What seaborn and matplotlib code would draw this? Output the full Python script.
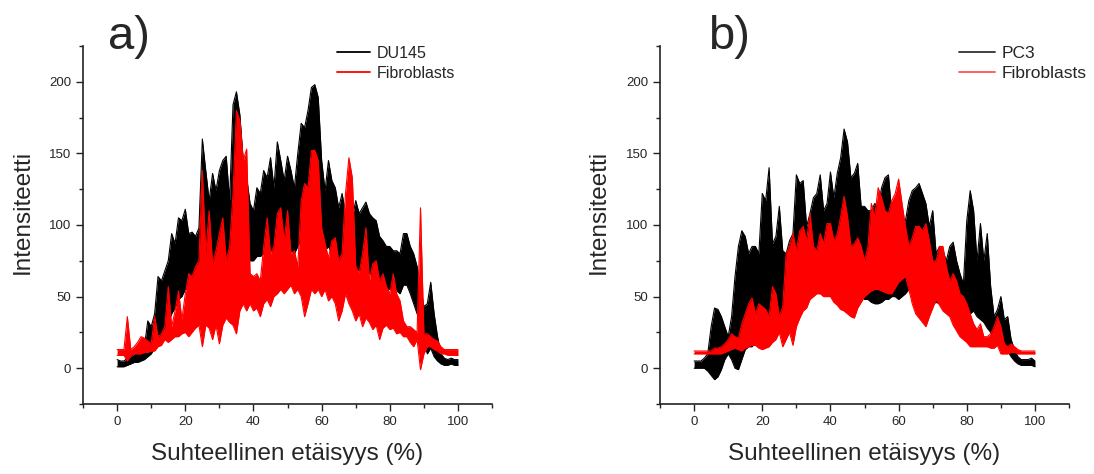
import matplotlib
matplotlib.use("Agg")
import matplotlib.pyplot as plt
import seaborn as sns
import numpy as np
from matplotlib.lines import Line2D
from matplotlib.ticker import MultipleLocator

# relative distance (%) sampled every 1 %
pos = list(range(0, 101))

# panel a) DU145 envelope (upper / lower)
du145_hi = [6, 5, 5, 7, 8, 10, 11, 12, 15, 33, 29, 38, 64, 61, 68, 75, 94, 87, 105, 103,
            111, 94, 95, 92, 98, 160, 138, 117, 136, 124, 138, 145, 148, 117, 184, 193, 177, 145, 133, 115,
            110, 126, 122, 138, 133, 147, 126, 158, 145, 131, 148, 138, 126, 150, 171, 168, 180, 196, 198, 189,
            145, 124, 145, 131, 126, 112, 122, 108, 105, 105, 117, 108, 112, 116, 108, 105, 103, 92, 89, 85,
            85, 82, 82, 80, 94, 94, 85, 80, 71, 57, 43, 45, 60, 38, 22, 10, 7, 6, 7, 6, 6]
du145_lo = [1, 1, 1, 2, 3, 4, 4, 5, 6, 8, 10, 14, 20, 24, 28, 32, 38, 42, 48, 50,
            55, 55, 58, 58, 60, 65, 62, 65, 68, 68, 70, 72, 74, 72, 80, 90, 88, 82, 78, 75,
            75, 78, 78, 80, 80, 82, 80, 85, 85, 82, 85, 82, 80, 85, 90, 95, 100, 110, 112, 105,
            90, 82, 85, 80, 78, 72, 74, 70, 68, 68, 70, 68, 68, 70, 66, 65, 64, 60, 58, 55,
            55, 54, 54, 52, 58, 58, 52, 45, 38, 32, 18, 10, 14, 8, 5, 3, 2, 2, 3, 2, 2]

# panel a) fibroblasts envelope
fib_a_hi = [13, 13, 13, 36, 13, 15, 18, 22, 21, 19, 17, 36, 22, 24, 29, 57, 29, 40, 54, 34,
            52, 66, 64, 71, 75, 138, 80, 110, 73, 82, 94, 105, 75, 85, 122, 180, 173, 145, 153, 66,
            64, 66, 61, 85, 105, 80, 85, 108, 112, 89, 110, 80, 82, 71, 117, 129, 126, 152, 152, 145,
            98, 87, 77, 89, 91, 75, 80, 122, 147, 133, 71, 66, 80, 98, 61, 73, 75, 61, 66, 57,
            52, 66, 52, 47, 33, 29, 29, 27, 25, 112, 24, 24, 22, 20, 19, 15, 13, 13, 13, 13, 13]
fib_a_lo = [9, 9, 9, 5, 9, 10, 10, 10, 11, 11, 12, 12, 15, 16, 20, 18, 20, 22, 22, 24,
            25, 22, 25, 28, 30, 15, 30, 28, 20, 30, 17, 30, 35, 32, 30, 24, 40, 45, 40, 45,
            40, 42, 36, 45, 48, 43, 50, 52, 55, 52, 55, 58, 52, 55, 50, 36, 45, 55, 52, 55,
            50, 55, 47, 50, 45, 33, 40, 52, 45, 40, 33, 38, 29, 35, 32, 27, 30, 20, 28, 30,
            27, 28, 24, 25, 22, 22, 18, 15, 20, -1, 10, 15, 15, 13, 12, 10, 10, 9, 9, 9, 9]

# panel b) PC3 envelope
pc3_hi = [5, 5, 5, 7, 10, 29, 42, 41, 36, 29, 22, 36, 64, 85, 96, 92, 80, 85, 85, 80,
          122, 117, 140, 87, 92, 113, 82, 80, 89, 94, 135, 129, 131, 99, 108, 119, 122, 135, 110, 115,
          137, 119, 136, 147, 167, 158, 133, 136, 143, 113, 113, 110, 110, 115, 113, 126, 133, 135, 108, 115,
          106, 99, 103, 117, 124, 126, 129, 122, 115, 99, 110, 80, 85, 82, 75, 85, 88, 75, 66, 59,
          103, 124, 110, 75, 101, 75, 94, 57, 36, 41, 50, 34, 36, 20, 13, 8, 6, 6, 6, 7, 5]
pc3_lo = [0, 0, 0, 0, -2, -5, -8, -6, -1, 6, 10, 6, 0, -1, 6, 13, 15, 15, 18, 20,
          25, 28, 30, 30, 32, 35, 35, 38, 40, 40, 45, 48, 50, 50, 52, 55, 55, 55, 55, 55,
          55, 55, 55, 55, 58, 58, 55, 52, 52, 50, 48, 48, 46, 45, 45, 46, 48, 48, 50, 50,
          48, 50, 52, 55, 55, 52, 52, 50, 48, 45, 45, 46, 45, 44, 44, 45, 45, 44, 42, 38,
          36, 38, 40, 36, 34, 32, 28, 25, 20, 18, 17, 14, 12, 8, 5, 3, 2, 2, 2, 2, 1]

# panel b) fibroblasts envelope
fib_b_hi = [12, 12, 12, 12, 12, 12, 14, 14, 15, 17, 20, 24, 22, 21, 31, 38, 45, 49, 38, 45,
            43, 41, 36, 57, 52, 36, 43, 80, 85, 94, 82, 96, 99, 89, 108, 85, 82, 94, 87, 101,
            101, 89, 94, 106, 120, 106, 85, 87, 91, 85, 75, 85, 115, 106, 126, 119, 110, 108, 117, 122,
            132, 115, 99, 85, 91, 99, 99, 96, 101, 89, 75, 75, 85, 85, 71, 61, 66, 61, 52, 50,
            45, 38, 31, 27, 31, 22, 22, 24, 29, 36, 29, 17, 15, 17, 15, 13, 12, 12, 12, 12, 12]
fib_b_lo = [10, 10, 10, 10, 10, 10, 10, 10, 10, 11, 12, 13, 14, 13, 12, 14, 15, 16, 16, 14,
            13, 14, 15, 18, 20, 25, 15, 20, 25, 16, 29, 35, 40, 42, 48, 50, 52, 52, 50, 50,
            50, 46, 44, 41, 40, 38, 36, 35, 42, 46, 50, 52, 54, 55, 55, 54, 53, 52, 52, 56,
            60, 62, 64, 55, 45, 38, 35, 32, 29, 36, 42, 48, 44, 40, 38, 36, 30, 26, 22, 20,
            18, 15, 15, 15, 15, 15, 15, 14, 14, 16, 10, 10, 10, 11, 11, 10, 10, 10, 10, 10, 10]

sns.set_style("ticks")
plt.rcParams['font.family'] = ['Liberation Sans', 'DejaVu Sans']

fig = plt.figure(figsize=(10.94, 4.74), dpi=100)
ax_a = fig.add_axes([0.0759, 0.1477, 0.3739, 0.7553])
ax_b = fig.add_axes([0.6033, 0.1477, 0.3739, 0.7553])

panels = [
    (ax_a, du145_hi, du145_lo, fib_a_hi, fib_a_lo, "DU145", "a)", 0.099,
     "#000000", "#ff0000", 11.5, 0.62, -0.12),
    (ax_b, pc3_hi, pc3_lo, fib_b_hi, fib_b_lo, "PC3", "b)", 0.647,
     "#333333", "#ff5555", 12.5, 0.73, -0.123),
]

for ax, c_hi, c_lo, f_hi, f_lo, cell, tag, tag_x, leg_black, leg_red, leg_fs, leg_x, ylab_x in panels:
    # cancer cell band (black) first, fibroblasts (red) on top
    for hi, lo, col, z in [(c_hi, c_lo, "black", 1), (f_hi, f_lo, "red", 3)]:
        ax.fill_between(pos, lo, hi, color=col, lw=0, zorder=z)
        sns.lineplot(x=pos, y=hi, color=col, lw=0.8, ax=ax, zorder=z)
        sns.lineplot(x=pos, y=lo, color=col, lw=0.8, ax=ax, zorder=z)

    ax.set_xlim(-10, 110)
    ax.set_ylim(-25, 225)
    ax.xaxis.set_major_locator(MultipleLocator(20))
    ax.xaxis.set_minor_locator(MultipleLocator(10))
    ax.yaxis.set_major_locator(MultipleLocator(50))
    ax.yaxis.set_minor_locator(MultipleLocator(25))
    ax.set_xticks([0, 20, 40, 60, 80, 100])
    ax.set_yticks([0, 50, 100, 150, 200])
    ax.tick_params(which='major', direction='out', length=5, width=1, labelsize=9.5, color='#222222')
    ax.tick_params(which='minor', direction='out', length=3, width=1, color='#222222')
    for s in ['left', 'bottom']:
        ax.spines[s].set_linewidth(1.2)
        ax.spines[s].set_color('#222222')
    sns.despine(ax=ax)

    ax.set_xlabel("Suhteellinen etäisyys (%)", fontsize=17.5, labelpad=11)
    ax.set_ylabel("Intensiteetti", fontsize=17.5)
    ax.yaxis.set_label_coords(ylab_x, 0.536)

    handles = [Line2D([0], [0], color=leg_black, lw=1.3),
               Line2D([0], [0], color=leg_red, lw=1.3)]
    ax.legend(handles, [cell, "Fibroblasts"], loc='upper left', bbox_to_anchor=(leg_x, 1.0),
              frameon=False, fontsize=leg_fs, handlelength=2.1, handletextpad=0.4,
              labelspacing=0.3, borderpad=0, borderaxespad=0)

    fig.text(tag_x, 0.897, tag, fontsize=34, va='baseline', ha='left')

fig.savefig("out.png", dpi=100)
